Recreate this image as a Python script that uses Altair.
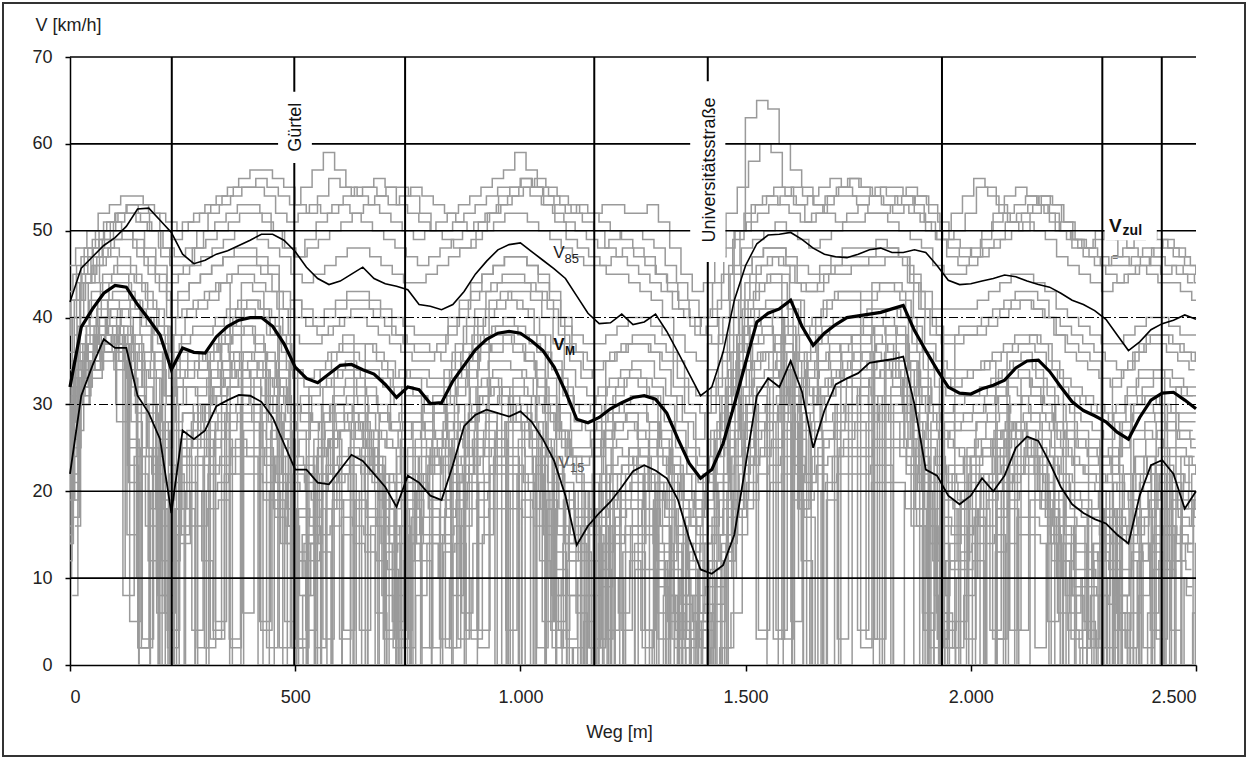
import altair as alt
import pandas as pd

# ---------------- data ----------------
pos = list(range(0, 2501, 25))  # Weg [m]

v85 = [41.8, 45.7, 47, 48.3, 49.2, 50.5, 52.5, 52.6, 51.2, 49.8,
       47.3, 46.2, 46.6, 47.3, 47.7, 48.3, 48.9, 49.6, 49.6, 48.9,
       47.6, 45.8, 44.5, 43.8, 44.2, 45, 45.8, 44.5, 43.9, 43.6,
       43.2, 41.5, 41.3, 40.9, 41.5, 43, 45, 46.5, 47.8, 48.4,
       48.6, 47.6, 46.6, 45.6, 44.5, 42.5, 40.5, 39.3, 39.4, 40.4,
       39.2, 39.5, 40.4, 38.4, 36, 33.5, 31, 32, 36, 42,
       46, 48.5, 49.5, 49.6, 49.8, 49, 48, 47.3, 47, 46.9,
       47.3, 47.8, 48, 47.5, 47.5, 47.8, 47.5, 46, 44.3, 43.8,
       43.9, 44.2, 44.5, 44.9, 44.7, 44.2, 43.8, 43.5, 42.8, 42,
       41.5, 40.8, 39.8, 38, 36.2, 37.2, 38.6, 39.3, 39.7, 40.3,
       39.8]

vm = [32, 38.9, 41, 42.8, 43.7, 43.5, 41.5, 39.8, 38, 34,
      36.5, 36, 35.9, 37.8, 39, 39.7, 40, 40, 39, 37,
      34.3, 33, 32.5, 33.5, 34.5, 34.6, 34, 33.5, 32.3, 30.8,
      32, 31.7, 30.1, 30.2, 32.7, 34.5, 36.3, 37.5, 38.2, 38.4,
      38.2, 37.3, 36.2, 34.3, 31.5, 28.3, 27.9, 28.5, 29.5, 30.2,
      30.8, 31, 30.6, 29, 26, 23.2, 21.5, 22.5, 25.5, 30,
      34.8, 39.5, 40.5, 41, 42, 39, 36.8, 38.2, 39.2, 40,
      40.2, 40.4, 40.6, 41, 41.4, 38.5, 36.2, 34, 32, 31.3,
      31.2, 31.8, 32.2, 32.8, 34.2, 35, 35.1, 33.8, 32, 30.3,
      29.3, 28.7, 28, 26.8, 26, 28.5, 30.5, 31.3, 31.4, 30.5,
      29.5]

v15 = [22, 31, 34.5, 37.5, 36.5, 36.5, 31, 29, 26, 17.5,
       27, 26, 27, 29.8, 30.5, 31.1, 31, 30.3, 28.5, 25.5,
       22.5, 22.5, 21, 20.8, 22.5, 24.2, 23.5, 22, 20.5, 18.2,
       21.8, 21, 19.5, 19, 23, 27.5, 28.8, 29.4, 29, 28.6,
       29.2, 28, 26, 23.5, 19.5, 13.8, 16, 17.5, 18.8, 20.5,
       22.3, 23, 22.4, 21.5, 19, 14.5, 11, 10.5, 11.5, 15,
       23, 31, 33, 32, 35, 31.5, 25, 29.3, 32.3, 33,
       33.6, 34.8, 35, 35.2, 35.5, 30, 22.5, 21.8, 19.5, 18.5,
       19.5, 21.5, 20, 21.8, 25, 26.3, 25.8, 23.3, 20.5, 18.5,
       17.5, 16.8, 16.3, 15, 14, 19.5, 23, 23.6, 22, 18,
       20]

gray_runs = {
    "H1": [46,48,50,52,53,54,54,53,52,51, 50,51,52,53,54,55,55,56,55,54,
           53,55,57,59,57,55,54,53,52,51, 50,49,50,51,52,53,54,55,56,57,
           59,57,55,54,53,52,51,50,48,47, 46,45,44,43,41,40,38,39,42,46,
           50,53,54,55,54,53,54,55,56,55, 54,54,55,54,53,52,51,50,49,50,
           52,55,54,52,51,52,53,52,50,49, 48,47,46,47,48,49,50,49,48,47, 46],
    "H2": [44,47,49,51,52,53,53,52,50,49, 51,52,53,54,55,56,57,57,56,55,
           53,52,54,56,55,54,55,56,55,53, 52,51,50,50,51,52,53,54,55,55,
           56,55,54,53,52,53,52,51,50,49, 48,47,45,44,42,40,38,37,40,50,
           63,65,64,60,57,55,53,52,51,52, 53,54,55,55,54,52,50,49,48,47,
           48,50,52,54,55,54,53,51,50,48, 47,46,45,44,45,46,47,48,47,46, 45],
    "H3": [43,45,48,50,51,52,52,51,50,48, 47,48,50,52,53,54,55,55,54,52,
           51,52,53,52,53,54,55,55,54,53, 54,55,54,53,52,51,50,51,52,53,
           54,55,56,55,54,53,52,52,53,53, 52,52,53,51,48,45,43,44,47,52,
           55,58,60,59,55,53,51,52,54,55, 56,55,54,53,54,55,54,52,50,52,
           54,56,55,53,51,50,52,54,53,51, 49,48,47,46,46,47,48,47,46,45, 44],
    "H4": [40,44,47,49,51,52,51,50,48,46, 46,48,50,51,52,53,53,52,50,48,
           47,49,51,52,53,52,51,50,49,48, 47,46,47,48,49,50,51,52,53,54,
           55,54,53,52,51,50,49,48,49,50, 50,49,48,46,44,42,40,41,45,49,
           52,53,54,53,52,51,52,53,54,54, 53,52,52,53,54,53,51,49,47,46,
           47,49,51,52,53,54,53,52,50,49, 48,49,50,49,48,47,46,45,46,45, 44],
    "H5": [38,42,45,48,50,52,53,52,50,47, 45,46,48,49,50,51,52,52,51,50,
           48,47,48,49,50,51,52,53,54,55, 55,54,52,50,49,48,48,50,52,54,
           55,56,55,53,51,49,48,47,46,47, 48,47,46,45,43,41,39,40,44,48,
           50,51,52,53,54,55,54,53,54,55, 56,55,54,53,52,53,54,53,51,49,
           48,47,48,49,51,52,53,54,53,51, 49,48,50,49,47,46,47,48,49,48, 47],
    "H6": [35,40,44,47,49,50,50,48,46,44, 45,46,47,48,49,50,50,49,48,47,
           45,44,45,46,47,48,48,47,46,45, 44,44,45,46,47,48,49,50,51,52,
           52,51,50,49,48,47,46,46,45,45, 44,43,42,40,38,36,35,37,40,45,
           48,49,50,51,50,49,48,49,50,51, 51,52,52,51,50,49,48,46,45,45,
           46,47,48,49,50,51,50,49,47,46, 45,44,43,44,45,46,45,44,44,43, 42],
    "M1": [36,42,45,47,48,47,45,43,41,38, 40,41,42,43,44,45,45,44,43,41,
           38,37,37,38,39,40,40,39,38,37, 36,35,35,36,38,40,42,43,44,45,
           45,44,43,41,38,35,33,34,35,36, 37,37,36,34,31,28,26,29,33,38,
           42,45,46,47,46,44,43,44,45,45, 46,46,46,47,47,44,41,38,37,37,
           38,38,39,40,41,42,41,40,38,36, 35,34,33,32,34,36,37,37,36,35, 34],
    "M2": [30,37,40,42,43,43,41,39,37,33, 36,36,35,37,39,40,40,40,38,36,
           33,32,32,33,34,34,33,33,32,30, 31,31,30,30,33,35,37,38,39,39,
           38,37,36,34,31,28,27,28,29,30, 31,31,30,28,25,22,21,24,29,34,
           39,41,42,42,38,35,37,39,40,40, 40,41,41,41,40,37,34,32,31,31,
           31,32,33,34,35,35,33,31,30,29, 28,27,26,28,30,31,31,30,29,29, 29],
    "M3": [25,33,37,39,40,39,37,35,33,28, 32,32,31,33,35,36,36,35,33,31,
           28,27,27,28,30,30,29,29,27,25, 27,27,26,25,28,31,33,34,35,35,
           34,33,31,29,26,23,23,24,26,27, 28,27,26,24,21,18,16,19,24,30,
           35,37,38,38,34,30,33,35,36,36, 37,37,38,37,35,32,29,27,26,27,
           28,29,30,31,32,31,29,27,25,24, 23,22,21,22,25,27,27,26,25,25, 24],
    "M4": [38,44,46,48,49,49,47,45,43,40, 41,42,43,44,45,46,46,45,43,41,
           40,39,38,39,40,41,41,40,39,38, 37,37,36,35,36,39,41,43,44,44,
           44,43,42,40,37,36,35,35,36,37, 38,38,37,36,33,30,29,32,36,40,
           44,46,47,46,44,43,43,45,46,46, 46,47,47,47,46,43,40,38,38,39,
           39,40,41,42,43,43,42,40,39,38, 37,36,35,34,35,37,38,38,37,36, 35],
    "M5": [28,35,39,42,44,44,42,40,38,31, 35,36,34,36,38,40,41,40,38,35,
           30,31,30,32,34,35,34,34,33,28, 32,31,29,29,31,34,36,38,39,40,
           39,38,36,33,29,27,28,29,30,32, 33,32,31,27,23,20,18,22,28,34,
           40,41,41,40,36,32,35,38,39,39, 39,40,40,41,40,36,33,30,29,30,
           31,31,32,34,35,36,34,32,30,28, 27,26,24,24,28,30,31,30,29,28, 28],
    "M6": [33,39,42,44,45,45,44,42,39,35, 37,38,38,39,40,41,42,41,39,37,
           34,33,34,35,36,36,35,35,34,32, 33,33,32,32,34,36,38,40,41,42,
           41,40,38,35,32,30,30,31,32,33, 34,33,32,30,27,24,23,26,31,36,
           41,43,44,44,41,38,39,41,42,42, 42,42,43,43,42,39,36,34,33,33,
           34,34,35,36,37,37,36,34,32,31, 30,29,28,29,31,33,33,33,32,31, 31],
    "M7": [15,27,34,38,40,41,40,38,35,30, 33,34,34,36,38,39,39,38,36,33,
           30,30,31,32,33,34,33,32,30,28, 29,29,28,29,31,33,35,37,38,38,
           37,36,34,31,27,25,25,27,28,29, 30,30,28,26,23,20,19,22,27,33,
           38,40,41,41,37,33,36,38,38,38, 38,39,39,40,39,35,32,30,29,29,
           29,30,31,32,33,34,32,30,28,27, 26,25,24,25,28,30,30,29,28,27, 27],
    "M8": [34,40,43,45,46,46,44,41,39,36, 38,39,39,40,41,42,42,41,40,38,
           35,35,35,36,37,37,37,36,35,33, 34,34,33,33,35,37,39,41,42,43,
           43,42,40,37,34,32,31,32,33,34, 35,35,33,31,28,25,24,27,31,36,
           42,44,45,45,42,39,40,42,43,43, 43,43,44,44,43,40,37,35,34,34,
           34,35,36,37,38,38,37,35,33,32, 31,30,29,30,32,34,34,34,33,32, 32],
    "M9": [22,31,36,40,42,42,41,39,36,31, 34,34,33,35,37,38,38,37,35,32,
           29,29,28,30,31,32,32,31,29,27, 28,28,27,27,30,32,34,36,37,37,
           36,35,33,30,27,24,24,26,27,28, 29,29,28,25,22,19,17,20,26,32,
           37,39,40,40,36,32,34,37,38,38, 38,38,39,39,38,35,31,29,28,28,
           29,29,30,31,33,33,31,29,27,26, 25,24,23,24,27,29,29,28,27,26, 26],
    "M10": [40,45,47,49,50,50,49,47,45,42, 43,44,45,46,47,47,47,46,45,43,
            42,41,40,41,42,43,43,42,41,40, 39,38,38,38,40,42,44,45,46,47,
            47,46,45,43,40,38,37,37,38,39, 40,40,39,38,35,32,31,34,38,42,
            46,47,48,48,47,46,45,46,47,48, 48,48,49,48,47,45,43,41,41,41,
            41,42,43,44,45,45,44,43,41,40, 39,38,37,37,38,39,40,40,39,38, 38],
    "L1": [20,30,34,36,36,35,33,2,30,26, 28,29,28,30,31,32,32,32,31,29,
           26,3,24,25,26,27,26,25,24,4, 24,24,22,22,25,0,28,29,30,30,
           30,29,28,26,5,20,20,2,21,22, 23,23,4,21,18,0,13,14,17,22,
           27,31,32,33,34,5,29,30,31,32, 32,32,33,33,33,30,28,26,3,23,
           23,24,24,25,26,27,27,26,24,22, 21,21,20,2,18,20,0,23,23,22, 21],
    "L2": [17,33,35,37,38,36,29,28,0,22, 24,4,24,26,27,28,28,5,27,25,
           22,21,0,21,22,23,22,21,3,19, 20,20,18,3,21,22,24,25,26,0,
           26,25,24,2,19,16,16,16,0,18, 19,2,19,17,14,11,0,10,13,18,
           23,27,28,29,30,27,0,26,27,28, 28,28,29,29,29,26,4,22,20,19,
           0,20,20,21,22,23,23,5,20,18, 17,17,0,15,14,16,18,0,19,18, 17],
    "L3": [14,33,36,38,38,36,5,25,23,19, 21,21,2,23,24,25,25,25,24,22,
           0,18,17,18,19,4,19,18,17,16, 0,17,15,15,18,19,21,4,23,23,
           23,22,0,19,16,13,13,0,14,15, 16,16,16,0,11,8,6,7,0,15,
           20,24,25,26,27,24,22,23,24,25, 25,25,26,26,26,23,21,0,17,16,
           16,17,0,18,19,20,20,19,17,15, 14,0,13,12,11,13,2,16,16,15, 14],
    "L4": [26,33,35,37,38,37,35,34,10,2, 30,30,30,32,33,34,34,34,33,31,
           2,8,26,27,28,29,28,27,26,25, 2,26,24,24,27,28,30,31,32,32,
           32,31,30,28,25,22,0,3,23,24, 25,25,25,23,0,17,15,16,19,24,
           29,33,34,35,36,33,31,32,33,34, 34,34,35,35,35,32,30,28,0,5,
           25,26,26,27,28,29,29,28,26,24, 23,23,0,21,20,22,24,25,0,24, 23],
    "L5": [14,32,35,37,38,36,23,0,20,16, 18,18,0,20,21,22,22,22,21,19,
           16,0,14,15,16,17,16,15,0,13, 14,14,12,0,15,16,18,19,20,20,
           0,19,18,16,13,0,10,10,11,0, 13,13,0,11,8,5,3,0,7,12,
           17,21,22,23,24,0,19,20,21,22, 22,22,23,23,0,20,18,16,14,0,
           13,14,14,15,0,17,17,16,14,12, 11,11,10,0,8,10,12,13,0,12, 11],
    "L6": [22,33,34,36,37,35,31,30,28,4, 26,26,26,3,29,30,30,30,29,27,
           24,23,2,23,24,25,24,23,22,21, 22,22,20,20,23,24,26,27,0,28,
           28,27,26,24,21,18,0,18,19,20, 21,21,21,19,16,3,11,12,15,20,
           25,29,30,31,32,29,27,28,29,30, 30,30,31,31,31,28,0,24,22,21,
           21,22,22,23,24,25,25,24,22,20, 19,0,18,17,16,18,20,21,21,0, 19],
    "L7": [19,33,36,38,39,37,28,3,25,21, 23,23,23,25,26,0,27,27,26,24,
           21,20,19,20,21,22,0,20,19,18, 19,19,17,17,20,21,23,24,25,25,
           25,0,23,21,18,15,15,15,0,17, 18,18,18,16,13,0,8,9,12,17,
           22,26,27,28,29,26,0,25,26,27, 27,27,28,28,28,25,23,21,19,18,
           18,0,19,20,21,22,22,21,19,17, 16,16,15,14,0,15,17,18,18,17, 16],
    "L8": [28,35,37,39,40,39,37,36,34,30, 32,32,32,34,35,36,36,36,35,33,
           30,29,28,29,30,31,30,29,28,27, 28,28,26,26,29,30,32,33,34,34,
           34,33,32,30,27,24,24,24,25,26, 27,27,27,25,22,19,17,18,21,26,
           31,35,36,37,38,35,33,34,35,36, 36,36,37,37,37,34,32,30,28,27,
           27,28,28,29,30,31,31,30,28,26, 25,25,24,23,22,24,26,27,27,26, 25],
    "L9": [12,30,34,37,38,37,21,20,18,0, 16,16,16,18,19,0,20,20,19,17,
           14,13,12,13,0,15,14,13,12,11, 0,12,10,10,13,14,0,17,18,18,
           18,17,16,0,11,8,8,8,9,10, 0,11,11,9,6,3,0,2,5,10,
           15,19,20,21,22,19,17,0,19,20, 20,20,21,21,21,18,16,14,12,11,
           11,12,0,13,14,15,15,14,12,10, 9,9,8,7,6,0,10,11,11,10, 9],
    "L10": [25,32,34,36,37,36,34,33,0,27, 29,29,29,31,32,33,33,33,32,30,
            27,0,25,26,27,28,27,26,25,0, 25,25,23,23,26,27,29,30,31,31,
            31,30,29,27,24,21,21,0,22,23, 24,24,24,22,19,16,14,15,18,23,
            28,32,33,34,35,32,30,31,32,33, 33,33,34,34,34,31,29,27,25,24,
            24,25,25,26,27,28,28,27,25,23, 22,22,21,20,19,21,23,24,24,23, 22],
    "L11": [16,32,36,38,39,37,25,24,22,18, 0,20,20,22,23,24,24,24,23,21,
            18,17,16,0,18,19,18,17,16,15, 16,0,14,14,17,18,20,21,22,22,
            22,21,20,18,15,12,12,12,13,14, 15,15,15,13,10,7,5,6,9,14,
            19,23,24,25,26,23,21,22,0,24, 24,24,25,25,25,22,20,18,16,15,
            15,16,16,17,18,0,19,18,16,14, 13,13,12,11,10,12,14,15,15,14, 13],
    "L12": [21,31,33,35,36,34,30,29,27,23, 25,25,25,27,28,29,29,29,28,26,
            23,22,21,22,23,24,23,22,21,20, 21,21,19,19,22,23,25,26,27,27,
            27,26,25,23,20,17,17,17,18,19, 20,20,20,18,15,12,10,11,14,19,
            24,28,29,30,31,28,26,27,28,29, 29,29,30,30,30,27,25,23,21,20,
            20,21,21,22,23,24,24,23,21,19, 18,18,17,16,15,17,19,20,20,19, 18],
    "S1": [20,30,35,38,36,30,15,2,10,25, 30,33,35,36,37,36,34,30,25,18,
           5,12,22,28,30,30,28,25,20,10, 3,15,22,25,27,28,30,32,33,32,
           30,27,22,15,8,3,10,18,22,25, 24,22,18,12,5,2,0,5,15,25,
           32,35,36,34,28,20,28,32,33,34, 35,35,36,35,32,25,18,10,3,12,
           20,23,25,27,28,27,24,20,15,10, 8,5,2,0,8,18,22,20,15,12, 14],
    "S2": [24,32,37,40,41,40,36,30,18,4, 15,25,30,32,34,35,35,33,28,20,
           10,15,24,28,29,29,27,22,14,5, 12,20,24,26,22,10,3,15,24,28,
           30,28,20,10,2,0,5,12,18,22, 25,24,20,14,6,2,5,12,20,28,
           34,37,38,36,30,18,27,32,34,35, 36,36,37,36,33,26,20,12,5,0,
           10,18,22,25,27,26,22,17,10,4, 2,8,14,18,22,24,22,18,12,16, 22],
    "S3": [26,33,38,41,42,41,38,32,20,6, 18,27,30,31,33,35,36,35,31,26,
           16,8,14,22,27,29,29,27,22,14, 4,14,22,25,26,27,29,31,32,31,
           28,24,18,10,4,8,16,22,26,28, 28,26,22,16,10,4,6,14,22,30,
           36,39,40,38,32,22,30,34,36,37, 38,38,39,38,35,29,22,14,6,2,
           8,16,21,24,26,26,24,20,14,8, 4,2,8,14,18,22,24,22,18,20, 24],
    "S4": [19,30,35,38,39,38,34,24,8,12, 24,28,30,32,33,34,35,34,30,22,
           10,14,20,25,27,28,27,24,18,8, 14,20,23,25,18,6,14,22,26,28,
           28,25,18,8,14,20,18,10,4,10, 16,18,14,8,4,8,4,0,10,24,
           32,35,36,34,28,18,26,31,33,34, 34,35,35,34,31,24,16,8,12,18,
           22,24,26,27,28,27,24,18,12,6, 10,14,10,4,2,12,20,22,18,14, 18],
    "D1": [10,31,35,38,39,28,26,0,20,12, 22,0,24,27,29,3,30,28,0,24,
           18,0,15,22,26,0,24,20,6,0, 10,18,0,20,24,28,4,30,32,30,
           28,0,24,18,0,12,20,2,16,10, 0,14,20,6,0,10,0,4,0,12,
           26,30,4,32,30,0,22,28,30,3, 30,32,31,0,30,26,20,0,8,14,
           20,0,22,24,26,4,24,18,0,12, 16,4,0,10,0,6,18,0,16,10, 8],
    "D2": [16,32,35,37,38,30,22,12,0,18, 26,30,2,28,32,34,33,4,28,20,
           12,4,20,26,3,27,26,22,0,10, 20,24,2,14,8,22,26,29,0,31,
           30,26,5,22,14,6,0,14,22,4, 18,22,10,0,8,14,6,0,2,18,
           28,3,33,34,31,12,0,26,30,32, 4,33,34,33,29,0,16,6,0,18,
           24,26,3,27,28,26,22,0,16,8, 0,12,16,6,0,14,4,20,10,0, 14],
    "D3": [28,36,39,40,41,38,32,36,30,0, 33,35,34,3,37,38,39,36,2,34,
           30,28,30,3,32,33,31,0,29,27, 0,28,27,26,30,3,35,37,36,38,
           37,35,2,30,26,24,0,25,27,28, 29,0,28,26,3,20,18,21,0,27,
           34,38,39,3,39,36,30,35,37,0, 38,39,3,39,38,34,0,28,26,25,
           3,28,29,31,4,33,32,30,0,27, 26,3,24,22,0,26,28,3,29,27, 26],
    "D4": [8,30,34,37,38,8,24,16,6,0, 14,20,12,4,22,26,24,0,20,14,
           2,0,10,18,22,20,4,16,8,2, 0,8,14,10,2,16,22,26,24,4,
           22,20,12,4,0,2,8,0,10,6, 12,4,0,8,2,0,4,0,2,6,
           18,24,28,4,28,10,0,20,24,26, 28,3,30,28,24,16,6,0,4,10,
           16,18,4,20,22,24,2,14,6,0, 2,8,0,6,2,0,6,12,4,0, 6],
    "D5": [34,40,44,46,47,45,42,40,36,8, 38,40,41,42,44,2,44,43,40,38,
           34,2,32,34,36,38,0,37,35,33, 34,33,2,31,34,37,40,2,42,43,
           42,41,38,0,33,30,29,30,3,31, 33,33,31,3,24,22,19,2,26,32,
           38,42,44,45,3,42,38,40,42,43, 43,2,44,44,43,40,36,0,33,32,
           33,34,35,3,36,37,38,37,34,0, 31,30,29,28,4,30,32,34,0,32, 31],
    "D6": [20,33,34,36,34,10,30,25,0,15, 25,27,28,5,30,31,30,28,26,0,
           20,22,24,26,27,0,25,23,18,4, 18,22,24,0,26,25,27,28,26,24,
           0,20,24,22,18,14,0,10,16,20, 22,18,0,12,16,10,2,0,12,20,
           27,31,0,30,32,20,24,0,28,30, 31,30,0,32,30,25,18,10,2,12,
           18,22,24,0,26,24,20,18,14,3, 10,14,18,8,0,8,14,10,22,20, 18],
    "D7": [30,34,37,40,38,35,30,2,24,28, 30,32,0,33,34,35,6,33,30,26,
           24,26,28,0,30,28,26,25,0,22, 26,28,30,26,2,24,28,31,33,0,
           33,31,28,24,20,0,16,18,20,0, 22,24,20,16,0,14,12,10,0,20,
           30,34,36,36,0,32,30,31,33,34, 35,36,0,36,33,28,24,2,20,22,
           24,26,28,0,30,30,28,24,20,16, 0,18,20,0,16,20,22,0,20,18, 20],
    "D8": [42,46,48,50,51,50,48,46,44,40, 42,44,45,46,47,48,48,47,46,2,
           42,40,39,40,41,42,42,41,40,38, 37,36,36,37,39,41,43,45,46,47,
           47,46,44,42,39,36,34,2,35,36, 37,37,36,35,32,29,0,31,35,40,
           45,47,48,48,46,44,44,45,46,47, 47,47,48,48,47,44,41,39,2,38,
           38,39,40,41,42,42,41,40,38,37, 36,35,0,33,34,36,38,38,37,36, 35],
}

# each run was logged from a slightly different start point [m]
run_start = [0, 12, -6, 9, -11, 3, -3, 7, -9, 11,
             -1, 5, -7, 10, -4, 2, -12, 8, -5, 4,
             -10, 6, -2, 1, -8, 12, -6, 9, -11, 3,
             -3, 7, -9, 11, -1, 5, -7, 10, -4, 2]

grid_solid = [10, 20, 50, 60, 70]
grid_dashdot = [30, 40]
junctions = [226, 498, 744, 1164, 1416, 1936, 2292, 2424]
x_ticks = [0, 500, 1000, 1500, 2000, 2500]
y_ticks = [0, 10, 20, 30, 40, 50, 60, 70]

# white label boxes (street names / Vzul) in data units
boxes = pd.DataFrame({
    "x": [462, 1377, 2297],
    "x2": [537, 1455, 2413],
    "y": [66.0, 67.2, 51.9],
    "y2": [57.8, 46.4, 48.9],
})

# ---------------- tables ----------------
rows = []
for (name, vals), s0 in zip(gray_runs.items(), run_start):
    assert len(vals) == len(pos), (name, len(vals))
    for x, v in zip(pos, vals):
        rows.append({"run": name, "x": x + s0, "v": v})
gray_df = pd.DataFrame(rows)

for nm, arr in (("v85", v85), ("vm", vm), ("v15", v15)):
    assert len(arr) == len(pos), (nm, len(arr))

black_df = pd.DataFrame({"x": pos, "v85": v85, "vm": vm, "v15": v15})

FONT = "Liberation Sans"
FS = 18
xs = alt.Scale(domain=[0, 2500], nice=False, zero=False)
ys = alt.Scale(domain=[0, 70], nice=False)

XAXIS = alt.Axis(values=x_ticks, grid=False, domainColor="#000",
                 domainWidth=1.5, tickColor="#000", tickSize=6,
                 tickWidth=1.5, labelFont=FONT, labelFontSize=FS,
                 labelColor="#222", labelPadding=17,
                 labelExpr="replace(format(datum.value, ',d'), ',', '.')",
                 titleFont=FONT, titleFontSize=FS, titleFontWeight="normal",
                 titleColor="#222", titleX=549, titleY=67,
                 titleBaseline="middle")
YAXIS = alt.Axis(values=y_ticks, grid=False, domainColor="#000",
                 domainWidth=1.5, tickColor="#000", tickSize=5,
                 tickWidth=1.5, labelFont=FONT, labelFontSize=FS,
                 labelColor="#222", labelPadding=13,
                 titleFont=FONT, titleFontSize=FS, titleFontWeight="normal",
                 titleColor="#222", titleAngle=0, titleX=-35, titleY=-32,
                 titleAlign="left", titleBaseline="middle")


def X(f="x"):
    return alt.X(f"{f}:Q", scale=xs, axis=XAXIS, title="Weg [m]")


def Y(f):
    return alt.Y(f"{f}:Q", scale=ys, axis=YAXIS, title="V [km/h]")


gray = alt.Chart(gray_df).mark_line(
    color="#9a9a9a", strokeWidth=1.5, clip=True, interpolate="step"
).encode(x=X(), y=Y("v"), detail="run:N")

hsolid = alt.Chart(pd.DataFrame({"y": grid_solid})).mark_rule(
    color="#000", strokeWidth=1.6
).encode(y=Y("y"))

hdash = alt.Chart(pd.DataFrame({"y": grid_dashdot})).mark_rule(
    color="#000", strokeWidth=1.1, strokeDash=[9, 3, 2, 3]
).encode(y=Y("y"))

vlines = alt.Chart(pd.DataFrame({"x": junctions})).mark_rule(
    color="#000", strokeWidth=2
).encode(x=X("x"))

l85 = alt.Chart(black_df).mark_line(color="#000", strokeWidth=1.6).encode(
    x=X(), y=Y("v85"))
lm = alt.Chart(black_df).mark_line(color="#000", strokeWidth=3.2).encode(
    x=X(), y=Y("vm"))
l15 = alt.Chart(black_df).mark_line(color="#000", strokeWidth=1.8).encode(
    x=X(), y=Y("v15"))

white = alt.Chart(boxes).mark_rect(color="white").encode(
    x=X("x"), x2="x2", y=Y("y"), y2="y2")

vert_labels = alt.Chart(pd.DataFrame({
    "x": [502, 1421], "y": [61.9, 57.0], "t": ["Gürtel", "Universitätsstraße"]
})).mark_text(angle=270, font=FONT, fontSize=18, color="#111",
              align="center", baseline="middle").encode(
    x=X("x"), y=Y("y"), text="t:N")


def label(x, y, t, size, color, bold=False):
    return alt.Chart(pd.DataFrame({"x": [x], "y": [y], "t": [t]})).mark_text(
        font=FONT, fontSize=size, color=color, align="left", baseline="middle",
        fontWeight="bold" if bold else "normal").encode(
        x=X("x"), y=Y("y"), text="t:N")


labels = [
    label(1073, 47.4, "V", 17, "#222"),
    label(1098, 46.8, "85", 13, "#222"),
    label(1073, 36.8, "V", 17, "#111", True),
    label(1099, 36.2, "M", 12, "#111", True),
    label(1084, 23.3, "V", 17, "#5a5a5a"),
    label(1110, 22.7, "15", 13, "#5a5a5a"),
    label(2307, 50.5, "V", 19, "#111", True),
    label(2337, 50.0, "zul", 14, "#111", True),
    label(2314, 46.9, "=", 10, "#777"),
]

frame = alt.Chart(pd.DataFrame({"a": [0]})).mark_rect(
    filled=False, stroke="#333", strokeWidth=2
).encode(x=alt.value(-67), x2=alt.value(1175), y=alt.value(-54), y2=alt.value(699))

chart = alt.layer(
    gray, hsolid, hdash, vlines, l15, lm, l85, white, vert_labels, *labels, frame
).properties(
    width=1126, height=608,
    padding={"left": 70, "top": 57, "right": 52, "bottom": 93},
    autosize=alt.AutoSizeParams(type="none"),
    background="white",
).configure_view(stroke=None)

chart.save("out.html", embed_options={"renderer": "svg", "actions": False})
